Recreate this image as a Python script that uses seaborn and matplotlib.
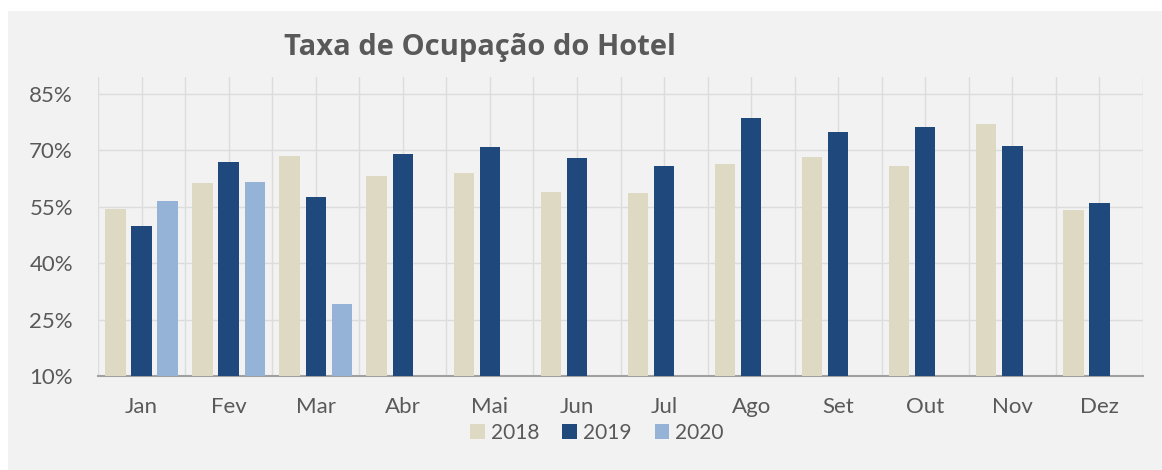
import numpy as np
import pandas as pd
import matplotlib
matplotlib.use("Agg")
import matplotlib.pyplot as plt
from matplotlib.ticker import FixedLocator, FuncFormatter
import seaborn as sns

months = ["Jan", "Fev", "Mar", "Abr", "Mai", "Jun", "Jul", "Ago", "Set", "Out", "Nov", "Dez"]
years = ["2018", "2019", "2020"]
occ_2018 = [54.4, 61.2, 68.6, 63.3, 64.0, 58.8, 58.6, 66.3, 68.3, 65.9, 77.0, 54.1]
occ_2019 = [50.0, 66.8, 57.6, 68.9, 70.9, 68.0, 65.9, 78.5, 74.8, 76.1, 71.2, 55.9]
occ_2020 = [56.5, 61.6, 29.2] + [np.nan] * 9
yticks = [10, 25, 40, 55, 70, 85]
colors = ["#ddd9c3", "#1f497d", "#95b3d7"]

df = pd.DataFrame({
    "Mes": months * 3,
    "Ano": [y for y in years for _ in months],
    "Taxa": occ_2018 + occ_2019 + occ_2020,
})

sns.set_theme(style="white")
plt.rcParams["font.family"] = ["Lato", "DejaVu Sans"]

fig = plt.figure(figsize=(11.62, 4.70), dpi=100)
fig.patch.set_facecolor("white")
fig.patches.append(plt.Rectangle((8 / 1162, 0), 1, 1 - 11 / 470, transform=fig.transFigure,
                                 facecolor="#f2f2f2", edgecolor="none", zorder=-10))
ax = fig.add_axes([98 / 1162, 1 - 376 / 470, (1143 - 98) / 1162, (376 - 77) / 470])
ax.set_facecolor("#f2f2f2")

sns.barplot(data=df, x="Mes", y="Taxa", hue="Ano", order=months, hue_order=years,
            palette=colors, width=0.9, gap=0.22, saturation=1, errorbar=None,
            linewidth=0, ax=ax, legend=True, zorder=3)

ax.set_ylim(10, 89.5)
ax.set_xlim(-0.5, len(months) - 0.5)
ax.yaxis.set_major_locator(FixedLocator(yticks))
ax.yaxis.set_major_formatter(FuncFormatter(lambda v, p: f"{v:.0f}%"))
ax.set_xticks(np.arange(-0.5, len(months), 1.0), minor=True)
ax.grid(True, axis="y", color="#dcdcdc", linewidth=1.0, zorder=0)
ax.grid(True, axis="x", which="both", color="#dcdcdc", linewidth=1.0, zorder=0)
ax.set_axisbelow(True)
ax.set_xlabel("")
ax.set_ylabel("")
for s in ["top", "right", "left"]:
    ax.spines[s].set_visible(False)
ax.spines["bottom"].set_color("#a0a0a0")
ax.spines["bottom"].set_linewidth(1.5)
ax.tick_params(axis="both", which="both", length=0)
ax.tick_params(axis="x", pad=15, labelsize=16, labelcolor="#595959")
ax.tick_params(axis="y", pad=18, labelsize=16, labelcolor="#595959")

handles, labels = ax.get_legend_handles_labels()
ax.get_legend().remove()
fig.legend(handles, labels, loc="center", bbox_to_anchor=(597 / 1162, 1 - 433 / 470),
           ncol=3, frameon=False, fontsize=15, labelcolor="#595959",
           handlelength=0.7, handleheight=0.7, handletextpad=0.3, columnspacing=1.1)

fig.text(480 / 1162, 1 - 48 / 470, "Taxa de Ocupação do Hotel", ha="center", va="center",
         fontsize=21, fontweight="bold", color="#595959", family=["Open Sans", "DejaVu Sans"])

fig.savefig("out.png", dpi=100, facecolor=fig.get_facecolor())
